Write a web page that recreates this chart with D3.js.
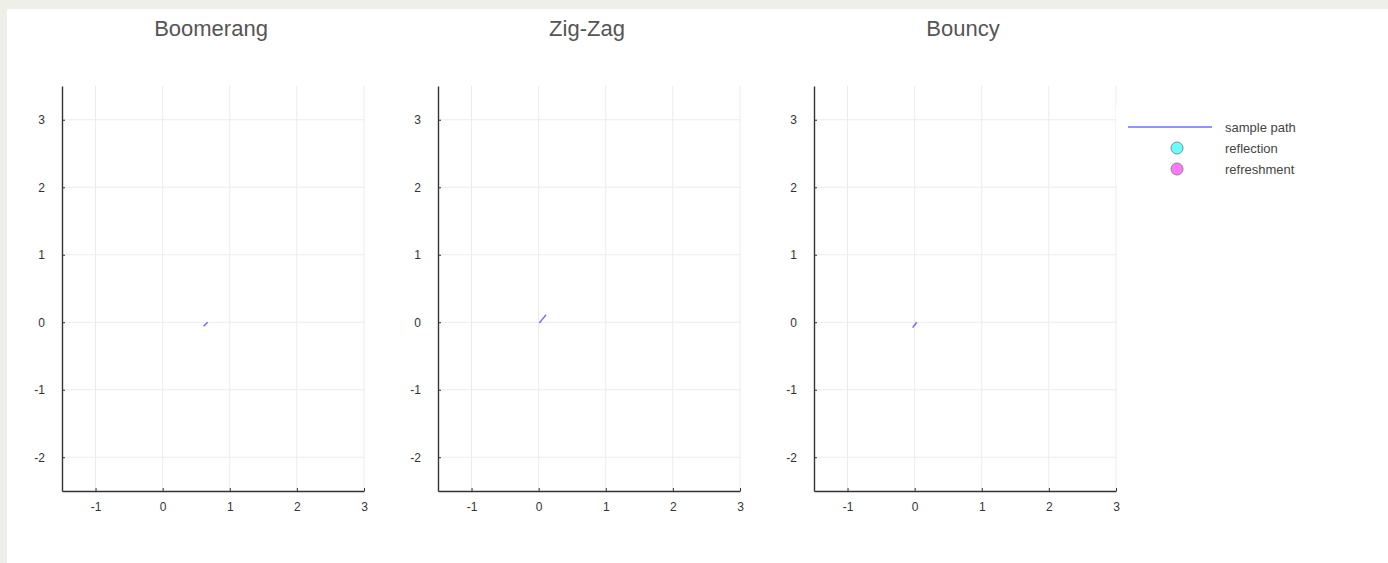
<!DOCTYPE html>
<html lang="en">
<head>
<meta charset="UTF-8">
<title>paths</title>
<script src="https://cdn.jsdelivr.net/npm/d3@7"></script>
<style>
  body{margin:0;background:#efefea;}
  #draw{position:absolute;left:7px;top:9px;width:1381px;height:554px;background:#fff;}
  svg{display:block;}
</style>
</head>
<body>
<div id="draw"></div>
<script>
var titles = ["Boomerang", "Zig-Zag", "Bouncy"];
var pathBoomerang = [[0.61, -0.06], [0.64, -0.03], [0.67, 0.0]];
var pathZigZag = [[0.01, -0.01], [0.06, 0.05], [0.11, 0.11]];
var pathBouncy = [[-0.03, -0.08], [0.0, -0.04], [0.03, 0.0]];
var paths = [pathBoomerang, pathZigZag, pathBouncy];
var xTicks = [-1, 0, 1, 2, 3];
var yTicks = [-2, -1, 0, 1, 2, 3];
var legendLabels = ["sample path", "reflection", "refreshment"];

var W = 1388, H = 563;
var panelLeft = [62, 438, 814];
var pw = 302, plotTop = 86, plotBottom = 491;

var svg = d3.select("body").append("svg")
    .attr("width", W).attr("height", H)
    .style("position", "absolute").style("left", 0).style("top", 0);

var x = d3.scaleLinear().domain([-1.5, 3]).range([0, pw]);
var y = d3.scaleLinear().domain([-2.5, 3.5]).range([plotBottom, plotTop]);
var fmt = function(d){ return String(d); };

titles.forEach(function(t, i){
    var g = svg.append("g").attr("transform", "translate(" + panelLeft[i] + ",0)");
    // grid
    g.selectAll(".vg").data(xTicks).enter().append("line")
        .attr("x1", d => x(d)).attr("x2", d => x(d))
        .attr("y1", plotTop).attr("y2", plotBottom)
        .attr("stroke", "#ebebeb").attr("stroke-width", 1);
    g.selectAll(".hg").data(yTicks).enter().append("line")
        .attr("x1", 0).attr("x2", pw)
        .attr("y1", d => y(d)).attr("y2", d => y(d))
        .attr("stroke", "#ebebeb").attr("stroke-width", 1);

    var xa = g.append("g").attr("transform", "translate(0," + plotBottom + ")")
        .call(d3.axisBottom(x).tickValues(xTicks).tickFormat(fmt).tickSizeInner(-3).tickSizeOuter(0).tickPadding(11));
    var ya = g.append("g")
        .call(d3.axisLeft(y).tickValues(yTicks).tickFormat(fmt).tickSizeInner(-3).tickSizeOuter(0).tickPadding(17));
    [xa, ya].forEach(function(a){
        a.select(".domain").attr("stroke", "#333").attr("stroke-width", 1.4);
        a.selectAll(".tick line").attr("stroke", "#333");
        a.selectAll("text").attr("fill", "#333").style("font-family", "Liberation Sans, Arial, sans-serif").style("font-size", "12px");
    });

    g.append("text").attr("x", 149).attr("y", 36)
        .attr("text-anchor", "middle")
        .style("font-family", "Liberation Sans, Arial, sans-serif")
        .style("font-size", "22px").attr("fill", "#555").text(t);

    g.append("path").datum(paths[i])
        .attr("d", d3.line().x(d => x(d[0])).y(d => y(d[1])))
        .attr("fill", "none").attr("stroke", "#5555ff").attr("stroke-opacity", 0.85)
        .attr("stroke-width", 1.5);
});

// legend
var lg = svg.append("g").attr("transform", "translate(1116,105)");
lg.append("rect").attr("width", 272).attr("height", 80).attr("fill", "#fff");
var ly = [22, 43, 64];
lg.append("line").attr("x1", 12).attr("x2", 96).attr("y1", ly[0]).attr("y2", ly[0])
    .attr("stroke", "#5555ff").attr("stroke-opacity", 0.85).attr("stroke-width", 1.5);
var markerColors = ["#66ffff", "#ff77ff"];
markerColors.forEach(function(c, i){
    lg.append("circle").attr("cx", 61).attr("cy", ly[i + 1]).attr("r", 6)
        .attr("fill", c).attr("stroke", "#888").attr("stroke-width", 1);
});
lg.selectAll(".lt").data(legendLabels).enter().append("text")
    .attr("x", 109).attr("y", (d, i) => ly[i] + 4.5)
    .style("font-family", "Liberation Sans, Arial, sans-serif")
    .style("font-size", "13px").attr("fill", "#444").text(d => d);
</script>
</body>
</html>
